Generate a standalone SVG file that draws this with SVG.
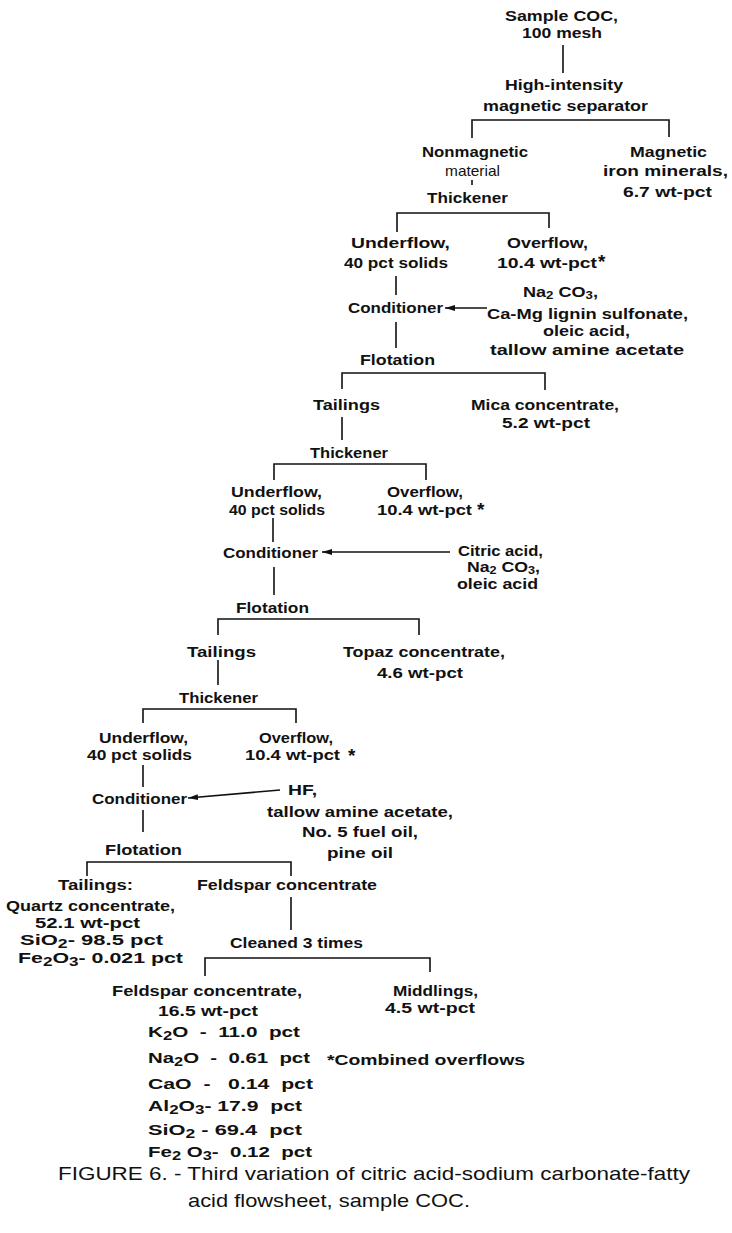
<svg xmlns="http://www.w3.org/2000/svg" width="732" height="1233" viewBox="0 0 732 1233">
<style>
text{font-family:"Liberation Sans",Arial,sans-serif;font-size:15px;font-weight:bold;fill:#111;}
.cap{font-size:19px;font-weight:normal;}
.ast{font-size:19px;}
.sm{font-size:14px;}
.pre{white-space:pre;}
.c{fill:none;stroke:#111;stroke-width:1.6;}
</style>
<defs>
<marker id="ah" viewBox="0 0 10 6" refX="10" refY="3" markerWidth="10" markerHeight="6" markerUnits="userSpaceOnUse" orient="auto">
<path d="M0,0 L10,3 L0,6 z" fill="#111"/>
</marker>
</defs>
<rect width="732" height="1233" fill="#fff"/>
<g id="connectors">
<line class="c" x1="563" y1="45" x2="563" y2="73"/>
<path class="c" d="M472,138 V120 H669 V137"/>
<line class="c" x1="472" y1="180" x2="472" y2="185"/>
<path class="c" d="M397,232 V213 H549 V228"/>
<line class="c" x1="396" y1="276" x2="396" y2="295"/>
<line class="c" x1="487" y1="308" x2="445" y2="308" marker-end="url(#ah)"/>
<line class="c" x1="396" y1="322" x2="396" y2="348"/>
<path class="c" d="M342,389 V373 H545 V390"/>
<line class="c" x1="342" y1="417" x2="342" y2="440"/>
<path class="c" d="M274,480 V464 H426 V480"/>
<line class="c" x1="273" y1="518" x2="273" y2="542"/>
<line class="c" x1="450" y1="552" x2="322" y2="552" marker-end="url(#ah)"/>
<line class="c" x1="274" y1="567" x2="274" y2="595"/>
<path class="c" d="M218,635 V619 H419 V635"/>
<line class="c" x1="218" y1="660" x2="218" y2="685"/>
<path class="c" d="M143,723 V709 H296 V723"/>
<line class="c" x1="143" y1="765" x2="143" y2="787"/>
<line class="c" x1="280" y1="790" x2="188" y2="798" marker-end="url(#ah)"/>
<line class="c" x1="143" y1="810" x2="143" y2="832"/>
<path class="c" d="M87,876 V862 H291 V876"/>
<line class="c" x1="291" y1="897" x2="291" y2="930"/>
<path class="c" d="M205,976 V958 H430 V972"/>
</g>
<g id="sample"><text x="505" y="21" textLength="113" lengthAdjust="spacingAndGlyphs">Sample COC,</text><text x="522" y="38" textLength="80" lengthAdjust="spacingAndGlyphs">100 mesh</text></g>
<g id="separator"><text x="505" y="90" textLength="118" lengthAdjust="spacingAndGlyphs">High-intensity</text><text x="483" y="111" textLength="165" lengthAdjust="spacingAndGlyphs">magnetic separator</text></g>
<g id="nonmagnetic"><text x="422" y="157" textLength="106" lengthAdjust="spacingAndGlyphs">Nonmagnetic</text><text x="445" y="176" textLength="55" lengthAdjust="spacingAndGlyphs" style="font-weight:normal">material</text></g>
<g id="magnetic"><text x="630" y="157" textLength="77" lengthAdjust="spacingAndGlyphs">Magnetic</text><text x="603" y="176" textLength="125" lengthAdjust="spacingAndGlyphs">iron minerals,</text><text x="623" y="197" textLength="89" lengthAdjust="spacingAndGlyphs">6.7 wt-pct</text></g>
<g id="thickener1"><text x="427" y="203" textLength="81" lengthAdjust="spacingAndGlyphs">Thickener</text></g>
<g id="underflow1"><text x="351" y="248" textLength="99" lengthAdjust="spacingAndGlyphs">Underflow,</text><text x="344" y="268" textLength="104" lengthAdjust="spacingAndGlyphs">40 pct solids</text></g>
<g id="overflow1"><text x="507" y="248" textLength="81" lengthAdjust="spacingAndGlyphs">Overflow,</text><text x="497" y="268" textLength="100" lengthAdjust="spacingAndGlyphs">10.4 wt-pct</text><text class="ast" x="598" y="268">*</text></g>
<g id="conditioner1"><text x="348" y="313" textLength="95" lengthAdjust="spacingAndGlyphs">Conditioner</text></g>
<g id="reagents1"><text x="523" y="297" textLength="75" lengthAdjust="spacingAndGlyphs">Na<tspan dy="2" font-size="11">2</tspan><tspan dy="-2"> CO</tspan><tspan dy="2" font-size="11">3</tspan><tspan dy="-2">,</tspan></text><text x="487" y="319" textLength="201" lengthAdjust="spacingAndGlyphs">Ca-Mg lignin sulfonate,</text><text x="543" y="336" textLength="87" lengthAdjust="spacingAndGlyphs">oleic acid,</text><text x="490" y="355" textLength="194" lengthAdjust="spacingAndGlyphs">tallow amine acetate</text></g>
<g id="flotation1"><text x="360" y="365" textLength="75" lengthAdjust="spacingAndGlyphs">Flotation</text></g>
<g id="tailings1"><text x="313" y="410" textLength="67" lengthAdjust="spacingAndGlyphs">Tailings</text></g>
<g id="mica"><text x="471" y="410" textLength="148" lengthAdjust="spacingAndGlyphs">Mica concentrate,</text><text x="502" y="428" textLength="88" lengthAdjust="spacingAndGlyphs">5.2 wt-pct</text></g>
<g id="thickener2"><text x="310" y="458" textLength="78" lengthAdjust="spacingAndGlyphs">Thickener</text></g>
<g id="underflow2"><text x="231" y="497" textLength="91" lengthAdjust="spacingAndGlyphs">Underflow,</text><text x="229" y="515" textLength="96" lengthAdjust="spacingAndGlyphs">40 pct solids</text></g>
<g id="overflow2"><text x="387" y="497" textLength="76" lengthAdjust="spacingAndGlyphs">Overflow,</text><text x="377" y="515" textLength="95" lengthAdjust="spacingAndGlyphs">10.4 wt-pct</text><text class="ast" x="477" y="516">*</text></g>
<g id="conditioner2"><text x="223" y="558" textLength="95" lengthAdjust="spacingAndGlyphs">Conditioner</text></g>
<g id="reagents2"><text x="458" y="556" textLength="85" lengthAdjust="spacingAndGlyphs">Citric acid,</text><text class="sm" x="467" y="572" textLength="73" lengthAdjust="spacingAndGlyphs">Na<tspan dy="2" font-size="10">2</tspan><tspan dy="-2"> CO</tspan><tspan dy="2" font-size="10">3</tspan><tspan dy="-2">,</tspan></text><text x="457" y="589" textLength="81" lengthAdjust="spacingAndGlyphs">oleic acid</text></g>
<g id="flotation2"><text x="236" y="613" textLength="73" lengthAdjust="spacingAndGlyphs">Flotation</text></g>
<g id="tailings2"><text x="187" y="657" textLength="69" lengthAdjust="spacingAndGlyphs">Tailings</text></g>
<g id="topaz"><text x="343" y="657" textLength="162" lengthAdjust="spacingAndGlyphs">Topaz concentrate,</text><text x="377" y="678" textLength="86" lengthAdjust="spacingAndGlyphs">4.6 wt-pct</text></g>
<g id="thickener3"><text x="179" y="703" textLength="79" lengthAdjust="spacingAndGlyphs">Thickener</text></g>
<g id="underflow3"><text x="99" y="743" textLength="89" lengthAdjust="spacingAndGlyphs">Underflow,</text><text x="87" y="760" textLength="105" lengthAdjust="spacingAndGlyphs">40 pct solids</text></g>
<g id="overflow3"><text x="259" y="743" textLength="74" lengthAdjust="spacingAndGlyphs">Overflow,</text><text x="245" y="760" textLength="95" lengthAdjust="spacingAndGlyphs">10.4 wt-pct</text><text class="ast" x="348" y="762">*</text></g>
<g id="conditioner3"><text x="92" y="804" textLength="95" lengthAdjust="spacingAndGlyphs">Conditioner</text></g>
<g id="reagents3"><text x="288" y="795" textLength="29" lengthAdjust="spacingAndGlyphs">HF,</text><text x="267" y="817" textLength="186" lengthAdjust="spacingAndGlyphs">tallow amine acetate,</text><text x="302" y="837" textLength="116" lengthAdjust="spacingAndGlyphs">No. 5 fuel oil,</text><text x="327" y="858" textLength="66" lengthAdjust="spacingAndGlyphs">pine oil</text></g>
<g id="flotation3"><text x="105" y="855" textLength="77" lengthAdjust="spacingAndGlyphs">Flotation</text></g>
<g id="quartz"><text x="58" y="890" textLength="75" lengthAdjust="spacingAndGlyphs">Tailings:</text><text class="sm" x="6" y="911" textLength="169" lengthAdjust="spacingAndGlyphs">Quartz concentrate,</text><text class="sm" x="35" y="928" textLength="105" lengthAdjust="spacingAndGlyphs">52.1 wt-pct</text><text x="20" y="945" textLength="143" lengthAdjust="spacingAndGlyphs">SiO<tspan dy="3" font-size="12">2</tspan><tspan dy="-3">- 98.5 pct</tspan></text><text x="18" y="963" textLength="165" lengthAdjust="spacingAndGlyphs">Fe<tspan dy="3" font-size="12">2</tspan><tspan dy="-3">O</tspan><tspan dy="3" font-size="12">3</tspan><tspan dy="-3">- 0.021 pct</tspan></text></g>
<g id="feldspar1"><text x="197" y="890" textLength="180" lengthAdjust="spacingAndGlyphs">Feldspar concentrate</text></g>
<g id="cleaned"><text x="230" y="948" textLength="133" lengthAdjust="spacingAndGlyphs">Cleaned 3 times</text></g>
<g id="feldspar2"><text x="112" y="996" textLength="190" lengthAdjust="spacingAndGlyphs">Feldspar concentrate,</text><text x="158" y="1016" textLength="100" lengthAdjust="spacingAndGlyphs">16.5 wt-pct</text>
<text class="pre" x="148" y="1037" textLength="152" lengthAdjust="spacingAndGlyphs">K<tspan dy="3" font-size="12">2</tspan><tspan dy="-3">O  -  11.0  pct</tspan></text>
<text class="pre" x="148" y="1063" textLength="162" lengthAdjust="spacingAndGlyphs">Na<tspan dy="3" font-size="12">2</tspan><tspan dy="-3">O  -  0.61  pct</tspan></text>
<text class="pre" x="148" y="1089" textLength="165" lengthAdjust="spacingAndGlyphs">CaO  -   0.14  pct</text>
<text class="pre" x="148" y="1111" textLength="154" lengthAdjust="spacingAndGlyphs">Al<tspan dy="3" font-size="12">2</tspan><tspan dy="-3">O</tspan><tspan dy="3" font-size="12">3</tspan><tspan dy="-3">- 17.9  pct</tspan></text>
<text class="pre" x="148" y="1135" textLength="154" lengthAdjust="spacingAndGlyphs">SiO<tspan dy="3" font-size="12">2</tspan><tspan dy="-3"> - 69.4  pct</tspan></text>
<text class="pre" x="148" y="1157" textLength="164" lengthAdjust="spacingAndGlyphs">Fe<tspan dy="3" font-size="12">2</tspan><tspan dy="-3"> O</tspan><tspan dy="3" font-size="12">3</tspan><tspan dy="-3">-  0.12  pct</tspan></text></g>
<g id="middlings"><text x="393" y="996" textLength="85" lengthAdjust="spacingAndGlyphs">Middlings,</text><text x="385" y="1013" textLength="90" lengthAdjust="spacingAndGlyphs">4.5 wt-pct</text></g>
<g id="note"><text x="327" y="1065" textLength="198" lengthAdjust="spacingAndGlyphs">*Combined overflows</text></g>
<g id="caption"><text class="cap" x="58" y="1180" textLength="632" lengthAdjust="spacingAndGlyphs">FIGURE 6. - Third variation of citric acid-sodium carbonate-fatty</text><text class="cap" x="188" y="1207" textLength="282" lengthAdjust="spacingAndGlyphs">acid flowsheet, sample COC.</text></g>
</svg>
